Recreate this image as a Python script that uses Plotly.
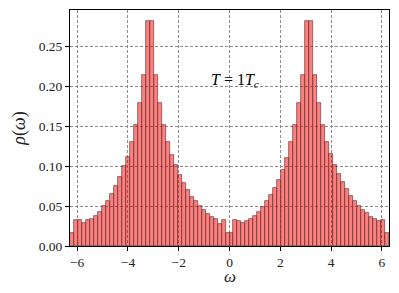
import numpy as np
import plotly.graph_objects as go

# histogram of rho(omega), 80 bins over [-2pi, 2pi]
bin_lo = -2 * np.pi
bin_hi = 2 * np.pi
n_bins = 80

# bin heights, left to right, one list per quarter
q1 = [0.016, 0.033, 0.032, 0.029, 0.032, 0.034, 0.038, 0.043, 0.050, 0.057,
      0.065, 0.075, 0.087, 0.100, 0.112, 0.131, 0.152, 0.179, 0.215, 0.282]
q2 = [0.282, 0.215, 0.179, 0.152, 0.131, 0.114, 0.101, 0.089, 0.079, 0.070,
      0.062, 0.056, 0.050, 0.045, 0.040, 0.036, 0.034, 0.028, 0.033, 0.016]
q3 = [0.016, 0.033, 0.031, 0.029, 0.031, 0.034, 0.038, 0.043, 0.049, 0.056,
      0.064, 0.073, 0.083, 0.095, 0.110, 0.131, 0.152, 0.179, 0.215, 0.282]
q4 = [0.282, 0.215, 0.179, 0.152, 0.131, 0.115, 0.102, 0.090, 0.080, 0.071,
      0.063, 0.056, 0.050, 0.045, 0.041, 0.037, 0.034, 0.031, 0.033, 0.016]
rho = q1 + q2 + q3 + q4

x_ticks = [-6, -4, -2, 0, 2, 4, 6]
y_ticks = [0.0, 0.05, 0.10, 0.15, 0.20, 0.25]

edges = np.linspace(bin_lo, bin_hi, n_bins + 1)
centers = 0.5 * (edges[:-1] + edges[1:])
width = edges[1] - edges[0]

font = "Liberation Serif, DejaVu Serif, serif"

fig = go.Figure(go.Bar(
    x=centers, y=rho, width=width,
    marker=dict(color="rgba(255,0,0,0.5)",
                line=dict(color="#6a3c3c", width=0.7)),
))

fig.add_annotation(x=0.2, y=0.207, text="<i>T</i> = 1<i>T</i><sub><i>c</i></sub>",
                   showarrow=False, font=dict(family=font, size=16, color="black"))

# x label as annotation so it can sit closer to the tick labels
fig.add_annotation(xref="paper", yref="paper", x=0.5, y=-0.13, yanchor="middle",
                   text="<i>\u03c9</i>", showarrow=False,
                   font=dict(family=font, size=17, color="#222"))

axis_style = dict(showline=True, linecolor="black", linewidth=1, mirror=True,
                  ticks="outside", ticklen=4, tickcolor="black",
                  showgrid=True, gridcolor="#8a8a8a", griddash="3px,2px", gridwidth=0.8,
                  zeroline=False, tickfont=dict(family=font, size=13.5, color="#222"))

fig.update_xaxes(range=[bin_lo, bin_hi], tickvals=x_ticks,
                 ticktext=[f"\u2212{abs(v)}" if v < 0 else str(v) for v in x_ticks],
                 **axis_style)
fig.update_yaxes(range=[0, 0.296], tickvals=y_ticks, tickformat=".2f",
                 title=dict(text="<i>\u03c1</i>(<i>\u03c9</i>)", font=dict(family=font, size=18), standoff=8),
                 **axis_style)

# page body adds 8px margin, so the figure is 8px smaller than the window
fig.update_layout(width=391, height=285, margin=dict(l=62, r=10, t=2, b=47),
                  font=dict(family=font, color="#222"),
                  plot_bgcolor="white", paper_bgcolor="white",
                  bargap=0, showlegend=False)

fig.write_html("out.html")
